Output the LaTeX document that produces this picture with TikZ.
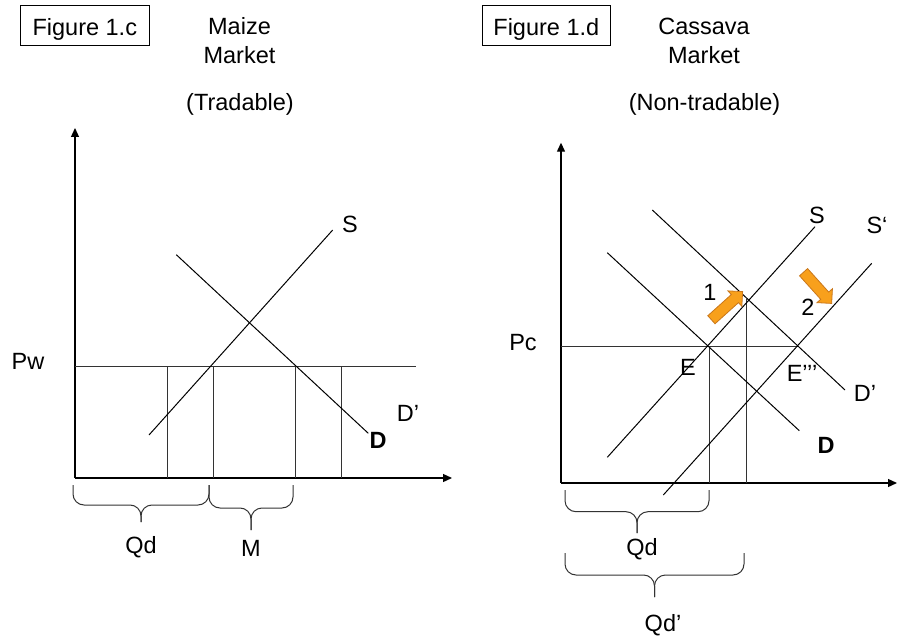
\documentclass[tikz,border=0pt]{standalone}
\usepackage{fontspec}
\setmainfont{Liberation Sans}
\usetikzlibrary{arrows.meta,shapes.arrows}
\definecolor{shiftfill}{HTML}{F8A01C}
\definecolor{shiftdraw}{HTML}{C9771B}

\newcommand{\qbrace}[5]{%
  \draw[bracepath] (#1,#3) -- (#1,#4) -- ({(#1+#2)/2},#4) -- ({(#1+#2)/2},#5);
  \draw[bracepath] (#2,#3) -- (#2,#4) -- ({(#1+#2)/2},#4) -- ({(#1+#2)/2},#5);}

\begin{document}
\begin{tikzpicture}[x=1pt, y=-1pt,
    every node/.style={font=\fontsize{23.5}{28.3}\selectfont, inner sep=0pt},
    axis/.style={line width=1.3pt, -{Triangle[length=9pt, width=8pt]}},
    curve/.style={line width=1pt},
    guide/.style={line width=1pt, black!80},
    figbox/.style={draw, line width=1pt, minimum width=128.5pt, minimum height=40pt,
                   text height=23pt, text depth=4pt},
    title/.style={align=center, anchor=base},
    bracepath/.style={line width=1pt, black!80, rounded corners=11pt},
    shiftarrow/.style={single arrow, fill=shiftfill, draw=shiftdraw, line width=0.8pt,
                   inner xsep=0pt, inner ysep=5pt, minimum height=42pt,
                   single arrow head extend=5pt},
  ]
  \useasboundingbox (0,0) rectangle (899,636);

  % Figure 1.c
  \node[figbox] (figc) at (84.8,25.9) {Figure 1.c};
  \node[title] (maize) at (239.5,63.3) {Maize\\Market};
  \node[title] (trad) at (240,111) {(Tradable)};

  \draw[axis] (75,478) -- (75,128);
  \draw[axis] (75,478) -- (452,478);
  \draw[guide] (75,366.7) -- (415.7,366.7);
  \foreach \x in {167,213,295.7,341.7}
    \draw[guide] (\x,366.7) -- (\x,478);
  \draw[curve] (149,435) -- (332.7,230);
  \draw[curve] (176.3,254.7) -- (368.3,433.3);

  \node (pw) at (28,361) {Pw};
  \node (sc) at (350,224) {S};
  \node (dpc) at (408,413) {D’};
  \node (dc) at (378,440) {\bfseries D};

  \qbrace{73}{209}{485}{505}{522}
  \qbrace{209}{293}{485}{508}{530}
  \node (qdc) at (141,547.5) {Qd};
  \node (mc) at (251,548) {M};

  % Figure 1.d
  \node[figbox] (figd) at (546.3,25.9) {Figure 1.d};
  \node[title] (cassava) at (704,63.3) {Cassava\\Market};
  \node[title] (nontrad) at (704.5,111) {(Non-tradable)};

  \draw[axis] (561,483) -- (561,142.7);
  \draw[axis] (561,483) -- (897,483);
  \draw[guide] (561,346.7) -- (798,346.7);
  \draw[guide] (709,346.7) -- (709,483);
  \draw[guide] (746.7,298.5) -- (746.7,483);
  \draw[curve] (607.3,457.3) -- (815,226.7);
  \draw[curve] (663.3,495) -- (871.7,263.3);
  \draw[curve] (652.3,210) -- (845,390);
  \draw[curve] (607.3,252.7) -- (799.3,430.7);

  \node (pc) at (523,343) {Pc};
  \node (sd) at (817,215) {S};
  \node (spd) at (877,225) {S‘};
  \node (e) at (688,367) {E};
  \node (e3) at (802,373) {E’’’};
  \node (dpd) at (865,393) {D’};
  \node (dd) at (826,445) {\bfseries D};
  \node (one) at (710,292) {1};
  \node (two) at (808,307) {2};
  \node[shiftarrow, rotate=42] (shift1) at (725,307.5) {};
  \node[shiftarrow, rotate=-48] (shift2) at (815.8,285.8) {};

  \qbrace{565}{709}{490}{511.7}{533}
  \qbrace{565}{744}{553}{575}{597}
  \node (qdd) at (642,549) {Qd};
  \node (qdpd) at (663,625) {Qd’};
\end{tikzpicture}
\end{document}
